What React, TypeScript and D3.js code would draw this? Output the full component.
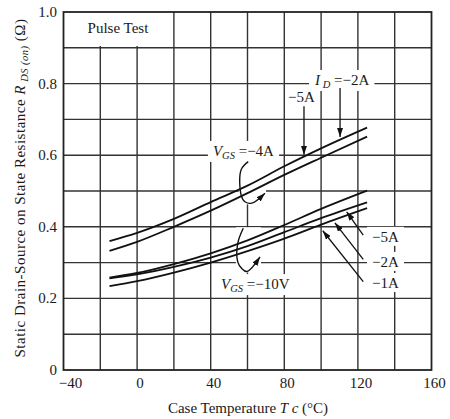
import React, { useEffect, useRef } from 'react';
import * as d3 from 'd3';

// Case temperature (°C) sample points
const temps = [-15, 0, 20, 40, 60, 80, 100, 125];
// VGS = -4V curves
const vgs4Id5 = [0.360, 0.383, 0.422, 0.469, 0.515, 0.569, 0.619, 0.677];
const vgs4Id2 = [0.333, 0.358, 0.400, 0.445, 0.494, 0.545, 0.593, 0.652];
// VGS = -10V curves
const vgs10Id5 = [0.258, 0.271, 0.296, 0.326, 0.362, 0.405, 0.450, 0.501];
const vgs10Id2 = [0.256, 0.267, 0.288, 0.314, 0.346, 0.385, 0.424, 0.468];
const vgs10Id1 = [0.234, 0.248, 0.272, 0.300, 0.332, 0.367, 0.406, 0.452];

const xTicks = [-40, 0, 40, 80, 120, 160];
const xTickLabels = ['−40', '0', '40', '80', '120', '160'];
const yTicks = [0, 0.2, 0.4, 0.6, 0.8, 1.0];
const yTickLabels = ['0', '0.2', '0.4', '0.6', '0.8', '1.0'];
const xGrid = [-20, 0, 20, 40, 60, 80, 100, 120, 140];
const yGrid = [0.1, 0.2, 0.3, 0.4, 0.5, 0.6, 0.7, 0.8, 0.9];

// annotation geometry in data units
const downArrows = [
  { from: [90.7, 0.737], to: [90.7, 0.601] },
  { from: [110.3, 0.788], to: [110.3, 0.651] },
];
const leaders = [
  { from: [122.9, 0.377], to: [113.9, 0.442] },
  { from: [122.9, 0.309], to: [107.5, 0.411] },
  { from: [122.9, 0.247], to: [100.9, 0.389] },
];
const loop4 = [[60.4, 0.582], [56.5, 0.559], [56.5, 0.489], [58.6, 0.470], [62.3, 0.466], [69.5, 0.494]];
const loop10 = [[57.7, 0.396], [54.7, 0.354], [54.7, 0.302], [56.8, 0.284], [59.7, 0.275], [66.8, 0.316]];

type Part = { t: string; it?: boolean; sub?: boolean };
const labels: { at: [number, number]; pad: number; parts: Part[] }[] = [
  { at: [96.7, 0.796], pad: 5, parts: [{ t: 'I', it: true }, { t: ' D', it: true, sub: true }, { t: ' =−2A' }] },
  { at: [82.0, 0.749], pad: 1, parts: [{ t: '−5A' }] },
  { at: [41.2, 0.598], pad: 5, parts: [{ t: 'V', it: true }, { t: 'GS', it: true, sub: true }, { t: ' =−4A' }] },
  { at: [45.6, 0.226], pad: 5, parts: [{ t: 'V', it: true }, { t: 'GS', it: true, sub: true }, { t: ' =−10V' }] },
  { at: [127.7, 0.358], pad: 5, parts: [{ t: '−5A' }] },
  { at: [127.7, 0.288], pad: 5, parts: [{ t: '−2A' }] },
  { at: [127.7, 0.229], pad: 5, parts: [{ t: '−1A' }] },
];

const FONT = '"Liberation Serif", "DejaVu Serif", serif';

export default function App() {
  const ref = useRef<SVGSVGElement>(null);

  useEffect(() => {
    const svg = d3.select(ref.current);
    svg.selectAll('*').remove();
    const x = d3.scaleLinear().domain([-40, 160]).range([63.5, 431.5]);
    const y = d3.scaleLinear().domain([0, 1]).range([370, 12]);

    const defs = svg.append('defs');
    defs.append('marker')
      .attr('id', 'ah').attr('viewBox', '0 0 10 10').attr('refX', 10).attr('refY', 5)
      .attr('markerUnits', 'userSpaceOnUse').attr('markerWidth', 9).attr('markerHeight', 6)
      .attr('orient', 'auto').attr('preserveAspectRatio', 'none')
      .append('path').attr('d', 'M0,0 L10,5 L0,10 Z').attr('fill', '#111');

    svg.append('rect').attr('width', 450).attr('height', 419).attr('fill', '#fff');

    const grid = svg.append('g').attr('stroke', '#333').attr('stroke-width', 1.4);
    xGrid.forEach(v => grid.append('line').attr('x1', x(v)).attr('x2', x(v)).attr('y1', y(0)).attr('y2', y(1)));
    yGrid.forEach(v => grid.append('line').attr('y1', y(v)).attr('y2', y(v)).attr('x1', x(-40)).attr('x2', x(160)));

    const bg = svg.append('g');
    // Pulse Test box
    bg.append('rect').attr('x', x(-40)).attr('y', y(1)).attr('width', x(19) - x(-40)).attr('height', y(0.905) - y(1)).attr('fill', '#fff');

    const curves = svg.append('g').attr('fill', 'none').attr('stroke', '#111').attr('stroke-width', 1.8);
    const ann = svg.append('g');
    const txt = svg.append('g').attr('font-family', FONT).attr('fill', '#1a1a1a');

    const line = d3.line<number>().x((_, i) => x(temps[i])).y(d => y(d)).curve(d3.curveMonotoneX);
    [vgs4Id5, vgs4Id2, vgs10Id5, vgs10Id2, vgs10Id1].forEach(s => curves.append('path').attr('d', line(s)!));

    const loopLine = d3.line<number[]>().x(d => x(d[0])).y(d => y(d[1])).curve(d3.curveCatmullRom);
    [loop4, loop10].forEach(pts => {
      const p = ann.append('path').attr('d', loopLine(pts)!).attr('fill', 'none').attr('stroke', '#111')
        .attr('stroke-width', 1.4).attr('marker-end', 'url(#ah)');
      const b = (p.node() as SVGPathElement).getBBox();
      bg.append('rect').attr('x', b.x - 1).attr('y', b.y - 1).attr('width', b.width + 2).attr('height', b.height + 2).attr('fill', '#fff');
    });
    [...downArrows, ...leaders].forEach(a => {
      ann.append('line').attr('x1', x(a.from[0])).attr('y1', y(a.from[1])).attr('x2', x(a.to[0])).attr('y2', y(a.to[1]))
        .attr('stroke', '#111').attr('stroke-width', 1.3).attr('marker-end', 'url(#ah)');
    });

    // annotation labels with white background
    labels.forEach(l => {
      const t = txt.append('text').attr('x', x(l.at[0])).attr('y', y(l.at[1])).attr('font-size', 15);
      let lowered = false;
      l.parts.forEach(p => {
        const ts = t.append('tspan').text(p.t);
        if (p.it) ts.attr('font-style', 'italic');
        if (p.sub) { ts.attr('font-size', 10.5).attr('dy', 3); lowered = true; }
        else if (lowered) { ts.attr('dy', -3); lowered = false; }
      });
      const b = (t.node() as SVGTextElement).getBBox();
      bg.append('rect').attr('x', b.x - l.pad).attr('y', b.y - 2).attr('width', b.width + 2 * l.pad).attr('height', b.height + 3).attr('fill', '#fff');
    });

    txt.append('text').attr('x', x(-10.4)).attr('y', 33).attr('text-anchor', 'middle').attr('font-size', 15).text('Pulse Test');

    // frame
    svg.append('rect').attr('x', x(-40)).attr('y', y(1)).attr('width', x(160) - x(-40)).attr('height', y(0) - y(1))
      .attr('fill', 'none').attr('stroke', '#222').attr('stroke-width', 1.8);

    // tick labels
    yTicks.forEach((v, i) => txt.append('text').attr('x', 57).attr('y', y(v) + 5).attr('text-anchor', 'end')
      .attr('font-size', 15).text(yTickLabels[i]));
    xTicks.forEach((v, i) => txt.append('text').attr('x', x(v) + (i === 0 ? 7 : 3)).attr('y', 388).attr('text-anchor', 'middle')
      .attr('font-size', 15).text(xTickLabels[i]));

    // axis titles
    const xt = txt.append('text').attr('x', 248).attr('y', 413).attr('text-anchor', 'middle').attr('font-size', 15);
    xt.append('tspan').text('Case Temperature ');
    xt.append('tspan').attr('font-style', 'italic').text('T c');
    xt.append('tspan').text(' (°C)');

    const yt = txt.append('text').attr('transform', 'translate(25,188) rotate(-90)').attr('text-anchor', 'middle')
      .attr('font-size', 15).attr('letter-spacing', 0.5);
    yt.append('tspan').text('Static Drain-Source on State Resistance ');
    yt.append('tspan').attr('font-style', 'italic').text('R');
    yt.append('tspan').attr('font-style', 'italic').attr('font-size', 10.5).attr('dy', 3).text(' DS (on)');
    yt.append('tspan').attr('dy', -3).text(' (Ω)');
  }, []);

  return (
    <svg ref={ref} width={450} height={419} style={{ position: 'absolute', left: 0, top: 0 }} />
  );
}
